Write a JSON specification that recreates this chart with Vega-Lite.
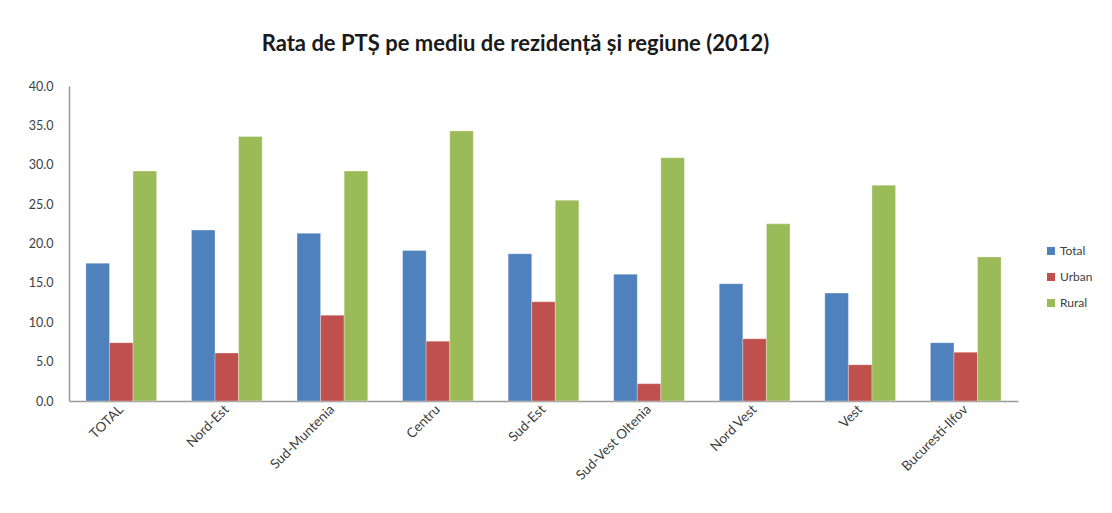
{
  "$schema": "https://vega.github.io/schema/vega-lite/v6.json",
  "width": 949,
  "height": 315,
  "autosize": {"type": "none"},
  "padding": {"left": 69, "top": 86, "right": 94, "bottom": 112},
  "background": "white",
  "title": {
    "text": "Rata de PTȘ pe mediu de rezidență și regiune (2012)",
    "font": "Lato",
    "fontSize": 22,
    "fontWeight": "bold",
    "color": "#1a1a1a",
    "anchor": "middle",
    "dx": -28,
    "offset": 24
  },
  "data": {
    "values": [
      {"regiune": "TOTAL", "mediu": "Total", "rata": 17.5},
      {"regiune": "TOTAL", "mediu": "Urban", "rata": 7.4},
      {"regiune": "TOTAL", "mediu": "Rural", "rata": 29.2},
      {"regiune": "Nord-Est", "mediu": "Total", "rata": 21.7},
      {"regiune": "Nord-Est", "mediu": "Urban", "rata": 6.1},
      {"regiune": "Nord-Est", "mediu": "Rural", "rata": 33.6},
      {"regiune": "Sud-Muntenia", "mediu": "Total", "rata": 21.3},
      {"regiune": "Sud-Muntenia", "mediu": "Urban", "rata": 10.9},
      {"regiune": "Sud-Muntenia", "mediu": "Rural", "rata": 29.2},
      {"regiune": "Centru", "mediu": "Total", "rata": 19.1},
      {"regiune": "Centru", "mediu": "Urban", "rata": 7.6},
      {"regiune": "Centru", "mediu": "Rural", "rata": 34.3},
      {"regiune": "Sud-Est", "mediu": "Total", "rata": 18.7},
      {"regiune": "Sud-Est", "mediu": "Urban", "rata": 12.6},
      {"regiune": "Sud-Est", "mediu": "Rural", "rata": 25.5},
      {"regiune": "Sud-Vest Oltenia", "mediu": "Total", "rata": 16.1},
      {"regiune": "Sud-Vest Oltenia", "mediu": "Urban", "rata": 2.2},
      {"regiune": "Sud-Vest Oltenia", "mediu": "Rural", "rata": 30.9},
      {"regiune": "Nord Vest", "mediu": "Total", "rata": 14.9},
      {"regiune": "Nord Vest", "mediu": "Urban", "rata": 7.9},
      {"regiune": "Nord Vest", "mediu": "Rural", "rata": 22.5},
      {"regiune": "Vest", "mediu": "Total", "rata": 13.7},
      {"regiune": "Vest", "mediu": "Urban", "rata": 4.6},
      {"regiune": "Vest", "mediu": "Rural", "rata": 27.4},
      {"regiune": "Bucuresti-Ilfov", "mediu": "Total", "rata": 7.4},
      {"regiune": "Bucuresti-Ilfov", "mediu": "Urban", "rata": 6.2},
      {"regiune": "Bucuresti-Ilfov", "mediu": "Rural", "rata": 18.3}
    ]
  },
  "mark": {"type": "bar", "stroke": "white", "strokeWidth": 0.5, "strokeOpacity": 0.6},
  "encoding": {
    "x": {
      "field": "regiune",
      "type": "nominal",
      "sort": null,
      "scale": {"paddingInner": 0.33, "paddingOuter": 0.16},
      "axis": {
        "title": null,
        "labelAngle": -45,
        "labelAlign": "right",
        "labelBaseline": "middle",
        "labelFont": "Lato",
        "labelFontSize": 13.5,
        "labelColor": "#404040",
        "labelPadding": 6,
        "ticks": false,
        "domainColor": "#9a9a9a",
        "domainWidth": 1.5
      }
    },
    "xOffset": {
      "field": "mediu",
      "type": "nominal",
      "sort": ["Total", "Urban", "Rural"],
      "scale": {"paddingInner": 0, "paddingOuter": 0}
    },
    "y": {
      "field": "rata",
      "type": "quantitative",
      "scale": {"domain": [0, 40], "nice": false},
      "axis": {
        "title": null,
        "values": [0, 5, 10, 15, 20, 25, 30, 35, 40],
        "format": ".1f",
        "grid": false,
        "ticks": false,
        "labelFont": "Lato",
        "labelFontSize": 12.5,
        "labelColor": "#404040",
        "labelPadding": 16,
        "domainColor": "#9a9a9a",
        "domainWidth": 1.5
      }
    },
    "color": {
      "field": "mediu",
      "type": "nominal",
      "sort": ["Total", "Urban", "Rural"],
      "scale": {"domain": ["Total", "Urban", "Rural"], "range": ["#4F81BD", "#C0504D", "#9BBB59"]},
      "legend": {
        "title": null,
        "orient": "none",
        "legendX": 976,
        "legendY": 159,
        "symbolType": "square",
        "symbolSize": 64,
        "symbolStrokeWidth": 0,
        "labelFont": "Lato",
        "labelFontSize": 12,
        "labelColor": "#404040",
        "rowPadding": 14,
        "labelOffset": 3
      }
    }
  },
  "config": {"view": {"stroke": null}}
}
